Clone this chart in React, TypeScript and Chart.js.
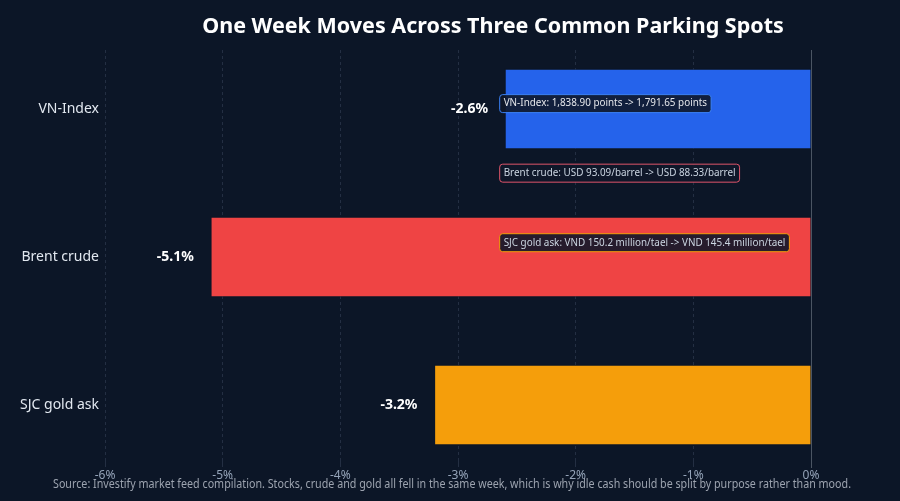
import { useEffect, useRef } from "react";
import { Chart, registerables } from "chart.js";

Chart.register(...registerables);

// Data
const categories = ["VN-Index", "Brent crude", "SJC gold ask"];
const weeklyChange = [-2.6, -5.1, -3.2];
const xTickValues = [-6, -5, -4, -3, -2, -1, 0];
const noteTexts = [
  "VN-Index: 1,838.90 points -> 1,791.65 points",
  "Brent crude: USD 93.09/barrel -> USD 88.33/barrel",
  "SJC gold ask: VND 150.2 million/tael -> VND 145.4 million/tael",
];

const TITLE = "One Week Moves Across Three Common Parking Spots";
const SOURCE =
  "Source: Investify market feed compilation. Stocks, crude and gold all fell in the same week, which is why idle cash should be split by purpose rather than mood.";

// styles / layout
const BG = "#0c1627";
const barColors = ["#2563eb", "#ef4444", "#f59e0b"];
const noteBorders = ["#3b82f6", "#e0566b", "#f59e0b"];
const noteTextColors = ["#e5e7eb", "#cbd5e1", "#cbd5e1"];
const noteAnchorX = -2.65;
const noteRows = [-0.04, 0.43, 0.9];
const FONT = "'Noto Sans', 'Open Sans', sans-serif";

const overlayPlugin = {
  id: "overlay",
  afterDatasetsDraw(chart: any) {
    const { ctx, chartArea, scales } = chart;
    const x = scales.x;
    const y = scales.y;
    ctx.save();

    // zero line
    const zx = Math.round(x.getPixelForValue(0)) + 0.5;
    ctx.strokeStyle = "#4b5563";
    ctx.lineWidth = 1;
    ctx.setLineDash([]);
    ctx.beginPath();
    ctx.moveTo(zx, chartArea.top);
    ctx.lineTo(zx, chartArea.bottom + 9);
    ctx.stroke();

    // value labels
    const meta = chart.getDatasetMeta(0);
    ctx.font = `bold 14px ${FONT}`;
    ctx.fillStyle = "#ffffff";
    ctx.textAlign = "right";
    ctx.textBaseline = "middle";
    meta.data.forEach((bar: any, i: number) => {
      ctx.fillText(`${weeklyChange[i].toFixed(1)}%`, bar.x - 17, bar.y);
    });

    // note boxes
    ctx.font = `9.9px ${FONT}`;
    ctx.textAlign = "left";
    noteTexts.forEach((t, i) => {
      const left = x.getPixelForValue(noteAnchorX);
      const cy = y.getPixelForValue(noteRows[i]);
      const w = ctx.measureText(t).width + 8;
      const h = 18;
      ctx.beginPath();
      ctx.roundRect(left + 0.5, cy - h / 2 + 0.5, w, h, 3);
      ctx.fillStyle = "rgba(15, 23, 42, 0.9)";
      ctx.fill();
      ctx.strokeStyle = noteBorders[i];
      ctx.lineWidth = 1;
      ctx.stroke();
      ctx.fillStyle = noteTextColors[i];
      ctx.fillText(t, left + 4.5, cy + 0.5);
    });

    // title
    ctx.font = `bold 21.5px ${FONT}`;
    ctx.fillStyle = "#ffffff";
    ctx.textAlign = "center";
    ctx.fillText(TITLE, 493, 27);

    // source
    ctx.font = `12px ${FONT}`;
    ctx.fillStyle = "#9ca3af";
    ctx.fillText(SOURCE, 452, 485, 798);

    ctx.restore();
  },
};

function MovesChart() {
  const canvasRef = useRef<HTMLCanvasElement>(null);

  useEffect(() => {
    if (!canvasRef.current) return;
    const chart = new Chart(canvasRef.current, {
      type: "bar",
      data: {
        datasets: [
          {
            data: weeklyChange.map((v, i) => ({ x: v, y: i })),
            backgroundColor: barColors,
            borderColor: "rgba(12, 22, 39, 0.55)",
            borderWidth: 1,
            barThickness: 80,
          },
        ],
      },
      options: {
        indexAxis: "y",
        responsive: false,
        animation: false,
        layout: { padding: { top: 50, right: 89, bottom: 18, left: 0 } },
        plugins: {
          legend: { display: false },
          title: { display: false },
          tooltip: { enabled: false },
        },
        scales: {
          x: {
            type: "linear",
            min: -6,
            max: 0,
            afterBuildTicks: (s: any) => {
              s.ticks = xTickValues.map((v) => ({ value: v }));
            },
            afterFit: (s: any) => {
              s.height = 24;
            },
            grid: {
              color: "rgba(100, 116, 139, 0.28)",
              tickLength: 8,
              tickColor: "rgba(100, 116, 139, 0.28)",
            },
            border: { display: false, dash: [3, 3] },
            ticks: {
              color: "#94a3b8",
              padding: 1,
              font: { family: FONT, size: 12 },
              callback: (v: any) => `${v}%`,
            },
          },
          y: {
            type: "linear",
            reverse: true,
            offset: false,
            min: -0.399,
            max: 2.365,
            afterBuildTicks: (s: any) => {
              s.ticks = categories.map((_, i) => ({ value: i }));
            },
            afterFit: (s: any) => {
              s.width = 105;
            },
            grid: { display: false, drawTicks: false, offset: false },
            border: { display: false },
            ticks: {
              color: "#e2e8f0",
              padding: 6,
              font: { family: FONT, size: 14 },
              callback: (v: any) => categories[v] ?? "",
            },
          },
        },
      },
      plugins: [overlayPlugin],
    } as any);

    return () => {
      chart.destroy();
    };
  }, []);

  return <canvas ref={canvasRef} width={900} height={501} style={{ display: "block" }} />;
}

export default function App() {
  return (
    <div style={{ position: "fixed", left: 0, top: 0, width: 900, height: 501, background: BG }}>
      <MovesChart />
    </div>
  );
}
